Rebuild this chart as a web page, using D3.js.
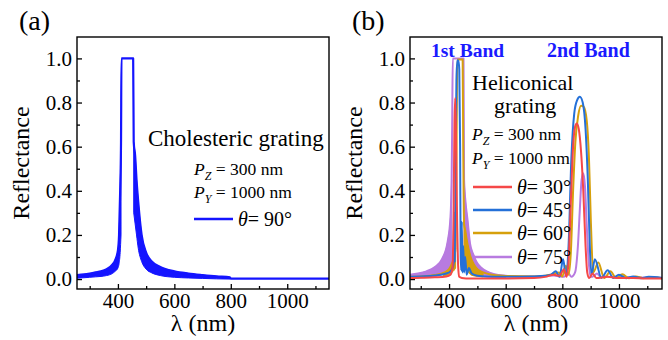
<!DOCTYPE html>
<html>
<head>
<meta charset="utf-8">
<script src="https://cdn.jsdelivr.net/npm/d3@7"></script>
<style>
body { margin: 0; background: #fff; }
</style>
</head>
<body>
<svg id="fig" width="668" height="340"></svg>
<script>
// ---- axis ticks (both panels)
const xTicks = [400, 600, 800, 1000];
const xMinor = [300, 500, 700, 900, 1100];
const yTicks = [0, 0.2, 0.4, 0.6, 0.8, 1.0];
const yMinor = [0.1, 0.3, 0.5, 0.7, 0.9];

// ---- (a) cholesteric grating, theta = 90
// lamA/refA = curve (upper envelope), floorA = lower envelope of the dense fringes (null = single line)
const lamA   = [255, 280, 300, 320, 340, 360, 380, 390, 400, 404, 408, 411, 412.5, 454, 456, 461, 466, 472, 484, 500, 520, 550, 600, 650, 700, 750, 797, 800, 900, 1000, 1148];
const refA   = [0.018, 0.021, 0.025, 0.03, 0.035, 0.045, 0.065, 0.085, 0.13, 0.2, 0.4, 0.62, 1.0, 1.0, 0.62, 0.56, 0.45, 0.35, 0.2, 0.12, 0.08, 0.055, 0.035, 0.025, 0.018, 0.012, 0.008, 0.002, 0.002, 0.002, 0.002];
const floorA = [0.004, 0.006, 0.008, 0.01, 0.012, 0.016, 0.025, 0.035, 0.05, 0.07, 0.12, 0.2, null, null, 0.3, 0.25, 0.2, 0.14, 0.08, 0.045, 0.028, 0.016, 0.008, 0.005, 0.003, 0.001, 0.0, null, null, null, null];

// ---- (b) heliconical grating
const lam30 = [262, 300, 350, 390, 405, 412, 416, 419, 421.5, 424, 428, 432, 436, 445, 460, 500, 600, 700, 740, 770, 790, 806, 815, 822, 830, 838, 845, 851, 858, 866, 874, 882, 888, 895, 907, 920, 960, 1000, 1050, 1100, 1152];
const ref30 = [0.005, 0.006, 0.008, 0.012, 0.02, 0.05, 0.3, 0.7, 0.82, 0.7, 0.3, 0.06, 0.01, 0.005, 0.003, 0.003, 0.003, 0.005, 0.01, 0.02, 0.015, 0.045, 0.01, 0.08, 0.35, 0.6, 0.69, 0.705, 0.68, 0.58, 0.4, 0.15, 0.03, 0.005, 0.025, 0.005, 0.01, 0.005, 0.005, 0.003, 0.003];

const lam45 = [262, 300, 350, 390, 405, 412, 416, 418, 420, 423, 426, 429, 433, 436, 439, 441, 443, 445, 447, 450, 453, 457, 462, 470, 480, 500, 550, 600, 700, 740, 760, 777, 790, 803, 812, 822, 832, 842, 852, 862, 872, 882, 890, 897, 903, 915, 938, 960, 980, 1000, 1025, 1050, 1078, 1105, 1152];
const ref45 = [0.01, 0.012, 0.016, 0.025, 0.035, 0.05, 0.07, 0.3, 0.08, 0.5, 0.9, 0.99, 0.99, 0.95, 0.6, 0.1, 0.04, 0.26, 0.03, 0.15, 0.03, 0.1, 0.02, 0.05, 0.025, 0.015, 0.01, 0.01, 0.012, 0.015, 0.02, 0.035, 0.01, 0.09, 0.02, 0.15, 0.55, 0.75, 0.81, 0.826, 0.8, 0.68, 0.45, 0.15, 0.02, 0.09, 0.005, 0.04, 0.005, 0.02, 0.004, 0.012, 0.004, 0.01, 0.005];

const lam60 = [262, 300, 350, 380, 400, 410, 418, 423, 426, 429, 448, 450, 453, 457, 462, 468, 476, 486, 500, 520, 550, 600, 700, 740, 760, 789, 800, 812, 822, 830, 838, 846, 856, 866, 876, 886, 894, 901, 909, 927, 948, 970, 990, 1012, 1035, 1060, 1085, 1110, 1152];
const ref60 = [0.01, 0.012, 0.018, 0.028, 0.045, 0.07, 0.1, 0.14, 0.5, 0.995, 0.995, 0.6, 0.25, 0.22, 0.18, 0.14, 0.1, 0.07, 0.045, 0.03, 0.02, 0.014, 0.012, 0.015, 0.02, 0.03, 0.012, 0.06, 0.02, 0.12, 0.4, 0.62, 0.74, 0.785, 0.78, 0.72, 0.55, 0.25, 0.03, 0.075, 0.005, 0.035, 0.005, 0.022, 0.004, 0.012, 0.004, 0.008, 0.004];
// dense fringe bands of the 60 deg curve
const fringe60Lam = [380, 400, 410, 418, 423, null, 453, 457, 462, 468, 476, 486, 500, 520];
const fringe60Hi  = [0.028, 0.045, 0.07, 0.1, 0.14, null, 0.25, 0.22, 0.18, 0.14, 0.1, 0.07, 0.045, 0.03];
const fringe60Lo  = [0.012, 0.02, 0.03, 0.04, 0.05, null, 0.06, 0.05, 0.04, 0.03, 0.02, 0.015, 0.012, 0.01];

const lam75 = [262, 290, 320, 350, 375, 395, 405, 409, 411, 413, 451, 453, 458, 465, 474, 486, 498, 515, 533, 560, 600, 650, 700, 740, 770, 790, 805, 815, 822, 832, 845, 855, 862, 868, 874, 880, 886, 893, 900, 912, 922, 935, 950, 980, 1020, 1060, 1100, 1152];
const ref75 = [0.02, 0.025, 0.035, 0.055, 0.09, 0.17, 0.28, 0.45, 0.7, 1.0, 1.0, 0.45, 0.35, 0.27, 0.16, 0.11, 0.075, 0.05, 0.035, 0.022, 0.015, 0.012, 0.012, 0.014, 0.016, 0.012, 0.01, 0.02, 0.025, 0.01, 0.03, 0.15, 0.32, 0.45, 0.48, 0.42, 0.25, 0.08, 0.01, 0.015, 0.025, 0.01, 0.012, 0.008, 0.008, 0.008, 0.006, 0.006];
const fringe75Lam = [262, 290, 320, 350, 375, 395, 405, 409, null, 453, 458, 465, 474, 486, 498, 515, 533, 560, 600];
const fringe75Hi  = [0.02, 0.025, 0.035, 0.055, 0.09, 0.17, 0.28, 0.45, null, 0.45, 0.35, 0.27, 0.16, 0.11, 0.075, 0.05, 0.035, 0.022, 0.015];
const fringe75Lo  = [0.004, 0.005, 0.008, 0.012, 0.02, 0.035, 0.05, 0.07, null, 0.1, 0.08, 0.06, 0.04, 0.03, 0.02, 0.014, 0.01, 0.008, 0.006];

const angles = ["30", "45", "60", "75"];
const colors = {"30": "#f54848", "45": "#2470d8", "60": "#d6a00c", "75": "#b87be0", "90": "#1414ff"};

// ---- layout
const FONT = '"Liberation Serif", "Times New Roman", serif';
const svg = d3.select("#fig");
const plotTop = 37, plotBottom = 289, W = 252;
const yDom = [-0.045, 1.097];

function makePanel(id, left, xDom, label) {
	const g = svg.append("g");
	const x = d3.scaleLinear().domain(xDom).range([left, left + W]);
	const y = d3.scaleLinear().domain(yDom).range([plotBottom, plotTop]);

	g.append("clipPath").attr("id", "clip" + id)
		.append("rect").attr("x", left).attr("y", plotTop).attr("width", W).attr("height", plotBottom - plotTop);

	// minor ticks
	g.append("g").attr("transform", "translate(0," + plotBottom + ")")
		.call(d3.axisBottom(x).tickValues(xMinor).tickSize(-3).tickFormat(""));
	g.append("g").attr("transform", "translate(" + left + ",0)")
		.call(d3.axisLeft(y).tickValues(yMinor).tickSize(-3).tickFormat(""));
	// major ticks
	const xa = g.append("g").attr("transform", "translate(0," + plotBottom + ")")
		.call(d3.axisBottom(x).tickValues(xTicks).tickSize(-5).tickPadding(4).tickFormat(d3.format("d")));
	const ya = g.append("g").attr("transform", "translate(" + left + ",0)")
		.call(d3.axisLeft(y).tickValues(yTicks).tickSize(-5).tickPadding(5).tickFormat(d3.format(".1f")));
	g.selectAll(".domain").remove();
	g.selectAll(".tick line").attr("stroke", "#000").attr("stroke-width", 1.3);
	[xa, ya].forEach(a => a.attr("font-size", 21).selectAll("text").attr("fill", "#000"));

	g.append("text").attr("x", left - 58).attr("y", 30).attr("font-size", 28).text(label);
	g.append("text")
		.attr("transform", "translate(" + (left - 48) + "," + ((plotTop + plotBottom) / 2) + ") rotate(-90)")
		.attr("text-anchor", "middle").attr("font-size", 24).text("Reflectance");
	g.append("text").attr("x", left + W / 2).attr("y", 331)
		.attr("text-anchor", "middle").attr("font-size", 24).text("λ (nm)");

	const plot = g.append("g").attr("clip-path", "url(#clip" + id + ")");
	return {g, plot, x, y};
}

function drawFringe(p, lam, hi, lo, color) {
	const pts = lam.map((l, i) => ({l, hi: hi[i], lo: lo[i]}));
	p.plot.append("path")
		.datum(pts)
		.attr("fill", color).attr("stroke", color).attr("stroke-width", 1)
		.attr("d", d3.area()
			.defined(d => d.l !== null && d.lo !== null)
			.x(d => p.x(d.l)).y0(d => p.y(d.lo)).y1(d => p.y(d.hi))
			.curve(d3.curveMonotoneX));
}

function drawLine(p, lam, ref, color, width) {
	p.plot.append("path")
		.datum(lam.map((l, i) => [l, ref[i]]))
		.attr("fill", "none").attr("stroke", color).attr("stroke-width", width)
		.attr("stroke-linejoin", "round")
		.attr("d", d3.line().x(d => p.x(d[0])).y(d => p.y(d[1])).curve(d3.curveMonotoneX));
}

function pText(g, x, y, sub, rest) {
	const t = g.append("text").attr("x", x).attr("y", y).attr("font-size", 17.5);
	t.append("tspan").attr("font-style", "italic").text("P");
	t.append("tspan").attr("font-style", "italic").attr("font-size", 12).attr("dy", 5).text(sub);
	t.append("tspan").attr("dy", -5).text(" = " + rest);
}

function legendItem(g, x, y, color, angle) {
	g.append("line").attr("x1", x).attr("x2", x + 39).attr("y1", y).attr("y2", y)
		.attr("stroke", color).attr("stroke-width", 2.5);
	const t = g.append("text").attr("x", x + 44).attr("y", y + 7).attr("font-size", 20);
	t.append("tspan").attr("font-style", "italic").text("θ");
	t.append("tspan").text("= " + angle + "°");
}

// ---- panel (a)
const pa = makePanel("a", 77, [255, 1148], "(a)");
drawFringe(pa, lamA, refA, floorA, colors["90"]);
drawLine(pa, lamA, refA, colors["90"], 2.2);
pa.g.append("text").attr("x", 148).attr("y", 146).attr("font-size", 23).text("Cholesteric grating");
pText(pa.g, 194, 175, "Z", "300 nm");
pText(pa.g, 194, 198, "Y", "1000 nm");
legendItem(pa.g, 194, 219, colors["90"], "90");

// ---- panel (b)
const pb = makePanel("b", 410, [262, 1152], "(b)");
drawFringe(pb, fringe75Lam, fringe75Hi, fringe75Lo, colors["75"]);
drawLine(pb, lam75, ref75, colors["75"], 2);
drawFringe(pb, fringe60Lam, fringe60Hi, fringe60Lo, colors["60"]);
drawLine(pb, lam60, ref60, colors["60"], 2);
drawLine(pb, lam45, ref45, colors["45"], 2);
drawLine(pb, lam30, ref30, colors["30"], 2);

pb.g.selectAll(".band")
	.data([["1st Band", 431, 19.5], ["2nd Band", 547, 20]])
	.enter().append("text")
		.attr("x", d => d[1]).attr("y", 57)
		.attr("font-size", d => d[2]).attr("font-weight", "bold")
		.attr("fill", "#1a1aff").text(d => d[0]);
pb.g.append("text").attr("x", 472).attr("y", 90).attr("font-size", 22).text("Heliconical");
pb.g.append("text").attr("x", 494).attr("y", 113).attr("font-size", 22).text("grating");
pText(pb.g, 472, 140, "Z", "300 nm");
pText(pb.g, 472, 164, "Y", "1000 nm");
angles.forEach((a, i) => legendItem(pb.g, 473, [187, 210, 233, 257][i], colors[a], a));

// frames on top
[77, 410].forEach(l => svg.append("rect")
	.attr("x", l).attr("y", plotTop).attr("width", W).attr("height", plotBottom - plotTop)
	.attr("fill", "none").attr("stroke", "#000").attr("stroke-width", 1.4));

// one serif face for every label
svg.selectAll("text").style("font-family", FONT);
</script>
</body>
</html>
